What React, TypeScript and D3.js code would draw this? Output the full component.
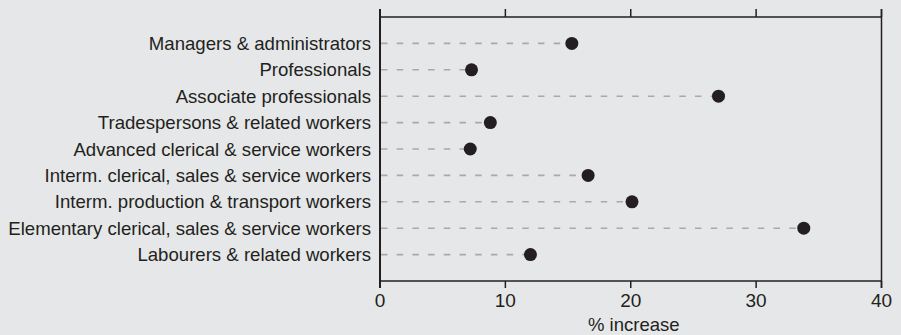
import React, { useEffect, useRef } from 'react';
import * as d3 from 'd3';

const categories = [
  'Managers & administrators',
  'Professionals',
  'Associate professionals',
  'Tradespersons & related workers',
  'Advanced clerical & service workers',
  'Interm. clerical, sales & service workers',
  'Interm. production & transport workers',
  'Elementary clerical, sales & service workers',
  'Labourers & related workers',
];

const increases = [15.3, 7.3, 27.0, 8.8, 7.2, 16.6, 20.1, 33.8, 12.0];

const xTicks = [0, 10, 20, 30, 40];

const width = 901;
const height = 335;

export default function App() {
  const svgRef = useRef<SVGSVGElement>(null);

  useEffect(() => {
    if (!svgRef.current) return;
    const svg = d3.select(svgRef.current);
    svg.selectAll('*').remove();

    const ink = '#231f20';
    const font = '"Liberation Sans", Arial, sans-serif';
    const left = 380;
    const right = 881.5;
    const top = 17;
    const bottom = 281;

    svg.append('rect').attr('width', width).attr('height', height).attr('fill', '#e6e7e8');

    const x = d3.scaleLinear().domain([0, 40]).range([left, right]);
    const y = d3.scalePoint<string>().domain(categories).range([top, bottom]).padding(1);

    const rows = categories.map((c, i) => ({ name: c, value: increases[i] }));

    // dashed leaders
    svg.selectAll('.leader')
      .data(rows)
      .enter()
      .append('line')
      .attr('x1', left + 1)
      .attr('x2', (d) => x(d.value))
      .attr('y1', (d) => y(d.name)!)
      .attr('y2', (d) => y(d.name)!)
      .attr('stroke', '#a9a9a9')
      .attr('stroke-width', 1.6)
      .attr('stroke-dasharray', '6.5,9.2');

    // frame
    const frame = svg.append('g').attr('stroke', ink).attr('stroke-width', 1.5).attr('fill', 'none');
    frame.append('line').attr('x1', left).attr('x2', right).attr('y1', top).attr('y2', top);
    frame.append('line').attr('x1', left).attr('x2', right).attr('y1', bottom).attr('y2', bottom);
    frame.append('line').attr('x1', left).attr('x2', left).attr('y1', top - 8).attr('y2', bottom + 7).attr('stroke-width', 2);
    frame.append('line').attr('x1', right).attr('x2', right).attr('y1', top - 8).attr('y2', bottom + 7);

    // ticks top and bottom
    xTicks.forEach((t) => {
      frame.append('line').attr('x1', x(t)).attr('x2', x(t)).attr('y1', top - 8).attr('y2', top);
      frame.append('line').attr('x1', x(t)).attr('x2', x(t)).attr('y1', bottom).attr('y2', bottom + 7);
    });

    svg.selectAll('.tick-label')
      .data(xTicks)
      .enter()
      .append('text')
      .attr('x', (d) => x(d))
      .attr('y', 307)
      .attr('text-anchor', 'middle')
      .attr('fill', ink)
      .style('font-family', font)
      .style('font-size', '19px')
      .text((d) => d);

    svg.append('text')
      .attr('x', x(20) + 3)
      .attr('y', 331)
      .attr('text-anchor', 'middle')
      .attr('fill', ink)
      .style('font-family', font)
      .style('font-size', '18.5px')
      .text('% increase');

    // category labels
    svg.selectAll('.cat')
      .data(rows)
      .enter()
      .append('text')
      .attr('x', 371)
      .attr('y', (d) => y(d.name)!)
      .attr('dy', '0.35em')
      .attr('text-anchor', 'end')
      .attr('fill', ink)
      .style('font-family', font)
      .style('font-size', '18.6px')
      .text((d) => d.name);

    // dots
    svg.selectAll('.dot')
      .data(rows)
      .enter()
      .append('circle')
      .attr('cx', (d) => x(d.value))
      .attr('cy', (d) => y(d.name)!)
      .attr('r', 6.5)
      .attr('fill', ink);
  }, []);

  return (
    <div>
      <style>{`body{margin:0}`}</style>
      <svg ref={svgRef} width={width} height={height} style={{ display: 'block' }} />
    </div>
  );
}
